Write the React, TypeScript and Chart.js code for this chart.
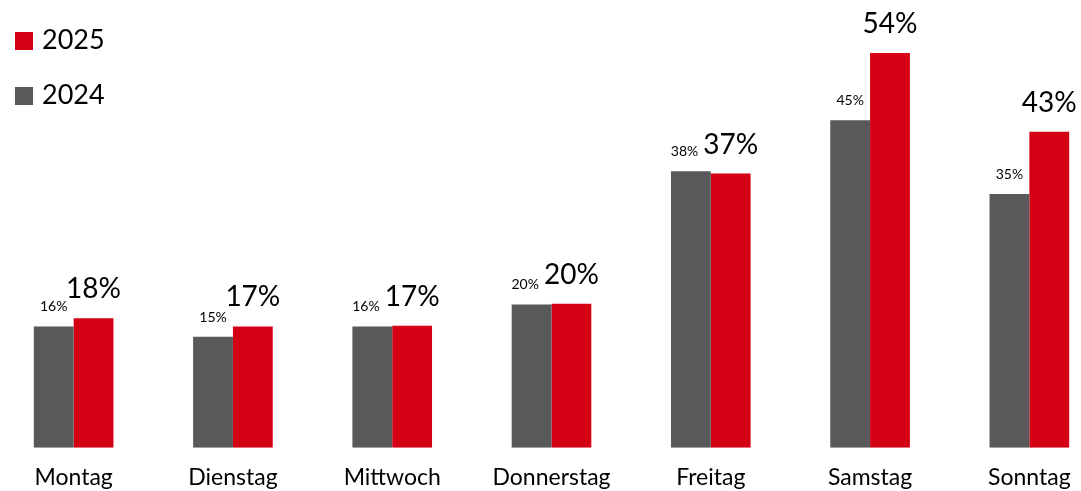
import React, { useEffect, useRef } from "react";
import { Chart, registerables } from "chart.js";
Chart.register(...registerables);

const categories = ["Montag", "Dienstag", "Mittwoch", "Donnerstag", "Freitag", "Samstag", "Sonntag"];
const values2024 = [16.6, 15.2, 16.6, 19.6, 37.8, 44.8, 34.7];
const values2025 = [17.7, 16.6, 16.7, 19.7, 37.5, 54.0, 43.2];
const labels2024 = ["16%", "15%", "16%", "20%", "38%", "45%", "35%"];
const labels2025 = ["18%", "17%", "17%", "20%", "37%", "54%", "43%"];
const seriesNames = ["2024", "2025"];
const seriesColors = ["#595959", "#D40013"];

const FONT = "Lato, 'Open Sans', sans-serif";

const valueLabelPlugin = {
  id: "valueLabels",
  afterDatasetsDraw(chart: any) {
    const ctx = chart.ctx;
    const small = { labels: labels2024, size: 14, offset: 15 };
    const big = { labels: labels2025, size: 28, offset: 20 };
    const m0 = chart.getDatasetMeta(0);
    const m1 = chart.getDatasetMeta(1);
    ctx.save();
    ctx.fillStyle = "#000";
    ctx.textAlign = "center";
    ctx.textBaseline = "alphabetic";
    m0.data.forEach((bar: any, i: number) => {
      const bigBar = m1.data[i];
      ctx.font = `${big.size}px ${FONT}`;
      const bigW = ctx.measureText(big.labels[i]).width;
      const bigLeft = bigBar.x - bigW / 2;
      const bigBase = bigBar.y - big.offset;
      ctx.fillText(big.labels[i], bigBar.x, bigBase);

      ctx.font = `${small.size}px ${FONT}`;
      const sW = ctx.measureText(small.labels[i]).width;
      const sBase = bar.y - small.offset;
      let x = bar.x;
      const vOverlap = sBase > bigBase - big.size * 0.75 && sBase - small.size * 0.75 < bigBase;
      if (vOverlap && x + sW / 2 > bigLeft - 5) x = bigLeft - 5 - sW / 2;
      ctx.fillText(small.labels[i], x, sBase);
    });
    ctx.restore();
  },
};

const legendPlugin = {
  id: "customLegend",
  afterDraw(chart: any) {
    const ctx = chart.ctx;
    const order = [1, 0];
    ctx.save();
    ctx.font = `27px ${FONT}`;
    ctx.textAlign = "left";
    ctx.textBaseline = "alphabetic";
    order.forEach((di, row) => {
      const ds = chart.data.datasets[di];
      const y = 32 + row * 55;
      ctx.fillStyle = ds.backgroundColor;
      ctx.fillRect(21, y, 18, 18);
      ctx.fillStyle = "#000";
      ctx.fillText(ds.label, 48, y + 17);
    });
    ctx.restore();
  },
};

export default function App() {
  const ref = useRef<HTMLCanvasElement>(null);
  useEffect(() => {
    if (!ref.current) return;
    const chart = new Chart(ref.current, {
      type: "bar",
      data: {
        labels: categories,
        datasets: [
          { label: seriesNames[0], data: values2024, backgroundColor: seriesColors[0], borderWidth: 0 },
          { label: seriesNames[1], data: values2025, backgroundColor: seriesColors[1], borderWidth: 0 },
        ],
      },
      options: {
        responsive: false,
        animation: false,
        layout: { padding: { top: 9, bottom: -16.4, left: 0, right: 0 } },
        plugins: { legend: { display: false }, tooltip: { enabled: false } },
        datasets: { bar: { barPercentage: 1, categoryPercentage: 0.5 } },
        scales: {
          x: {
            grid: { display: false, drawTicks: false },
            border: { display: false },
            ticks: { color: "#000", font: { family: FONT, size: 23 }, padding: 16, maxRotation: 0, autoSkip: false },
          },
          y: { display: false, min: 0, max: 60 },
        },
      },
      plugins: [valueLabelPlugin, legendPlugin],
    });
    return () => chart.destroy();
  }, []);
  return (
    <div style={{ position: "fixed", left: 0, top: 0, width: 1081, height: 491, overflow: "hidden", background: "#fff" }}>
      <div style={{ position: "absolute", left: -6, top: 0 }}>
        <canvas ref={ref} width={1115} height={491} style={{ display: "block" }} />
      </div>
    </div>
  );
}
